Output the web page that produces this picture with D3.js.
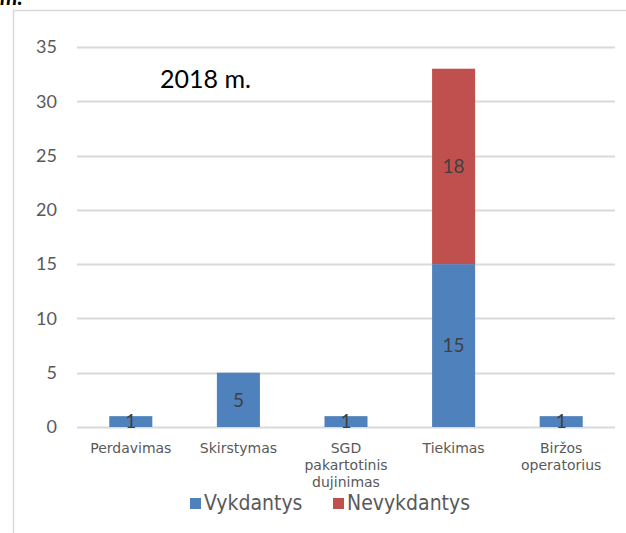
<!DOCTYPE html>
<html>
<head>
<meta charset="utf-8">
<script src="https://cdn.jsdelivr.net/npm/d3@7"></script>
<style>
  body { margin: 0; background: #fff; }
  svg { display: block; }
</style>
</head>
<body>
<svg id="chart"></svg>
<script>
const svgWidth = 626,
    svgHeight = 533,
    margin = {top: 47, right: 11, bottom: 106, left: 77},
    width = svgWidth - margin.left - margin.right,
    height = svgHeight - margin.top - margin.bottom;

// data
const categories = ["Perdavimas", "Skirstymas", "SGD pakartotinis dujinimas", "Tiekimas", "Biržos operatorius"];
const categoryLines = [["Perdavimas"], ["Skirstymas"], ["SGD", "pakartotinis", "dujinimas"], ["Tiekimas"], ["Biržos", "operatorius"]];
const vykdantys = [1, 5, 1, 15, 1];
const nevykdantys = [0, 0, 0, 18, 0];
const seriesNames = ["Vykdantys", "Nevykdantys"];
const yTicks = [0, 5, 10, 15, 20, 25, 30, 35];

const colors = ["#4f81bd", "#c0504d"];

const chart = d3.select('#chart')
    .attr("width", svgWidth)
    .attr("height", svgHeight);

// outer frame (only left and top visible)
chart.append("line")
    .attr("x1", 13.5).attr("x2", 13.5).attr("y1", 10).attr("y2", svgHeight)
    .style("stroke", "#d9d9d9").style("stroke-width", 1.5);
chart.append("line")
    .attr("x1", 13).attr("x2", svgWidth).attr("y1", 10.5).attr("y2", 10.5)
    .style("stroke", "#d9d9d9").style("stroke-width", 1.5);

// text cut off at the top, as in the source
chart.append("text")
    .attr("x", 0).attr("y", 5)
    .style("font-family", "Lato, sans-serif")
    .style("font-size", "22px")
    .style("font-weight", "bold")
    .style("font-style", "italic")
    .text("m.");

const innerChart = chart.append("g")
    .attr("transform", "translate(" + margin.left + "," + margin.top + ")");

var xScale = d3.scaleBand().domain(categories).range([0, width]).paddingInner(0.6).paddingOuter(0.3);
var yScale = d3.scaleLinear().domain([0, 35]).range([height, 0]);

// gridlines
innerChart.append("g").selectAll("line")
    .data(yTicks)
    .enter()
    .append("line")
    .attr("x1", 0).attr("x2", width)
    .attr("y1", d => Math.round(yScale(d)) + 0.5)
    .attr("y2", d => Math.round(yScale(d)) + 0.5)
    .style("stroke", "#d9d9d9")
    .style("stroke-width", 2);

// y tick labels
innerChart.append("g").selectAll("text")
    .data(yTicks)
    .enter()
    .append("text")
    .attr("x", -20)
    .attr("y", d => yScale(d))
    .attr("dy", "0.35em")
    .attr("text-anchor", "end")
    .style("font-family", "Lato, sans-serif")
    .style("font-size", "18px")
    .style("fill", "#595959")
    .text(d => d);

// stacked bars
const stackData = categories.map((c, i) => ({cat: c, Vykdantys: vykdantys[i], Nevykdantys: nevykdantys[i]}));
const stacked = d3.stack().keys(seriesNames)(stackData);

const bandW = xScale.step() * 0.4;
const barX = d => xScale(d.data.cat) + xScale.bandwidth() / 2 - bandW / 2;

stacked.forEach(function(layer, li) {
    var g = innerChart.append("g");
    g.selectAll("rect")
        .data(layer.filter(d => d[1] - d[0] > 0))
        .enter()
        .append("rect")
        .attr("x", barX)
        .attr("width", bandW)
        .attr("y", d => yScale(d[1]))
        .attr("height", d => yScale(d[0]) - yScale(d[1]))
        .style("fill", colors[li]);

    g.selectAll("text")
        .data(layer.filter(d => d[1] - d[0] > 0))
        .enter()
        .append("text")
        .attr("x", d => xScale(d.data.cat) + xScale.bandwidth() / 2)
        .attr("y", d => (yScale(d[0]) + yScale(d[1])) / 2)
        .attr("dy", "0.35em")
        .attr("text-anchor", "middle")
        .style("font-family", "Lato, sans-serif")
        .style("font-size", "19px")
        .style("fill", "#404040")
        .text(d => d[1] - d[0]);
});

// x category labels
var xl = innerChart.append("g").selectAll("text")
    .data(categories)
    .enter()
    .append("text")
    .attr("x", d => xScale(d) + xScale.bandwidth() / 2)
    .attr("y", height + 26)
    .attr("text-anchor", "middle")
    .style("font-family", "'DejaVu Sans', sans-serif")
    .style("font-size", "14px")
    .style("fill", "#595959");

xl.each(function(d, i) {
    var t = d3.select(this);
    categoryLines[i].forEach(function(line, j) {
        t.append("tspan")
            .attr("x", xScale(d) + xScale.bandwidth() / 2)
            .attr("dy", j == 0 ? 0 : 17)
            .text(line);
    });
});

// legend
const legendX = [190, 333];
const legend = chart.append("g").selectAll("g")
    .data(seriesNames)
    .enter()
    .append("g")
    .attr("transform", (d, i) => "translate(" + legendX[i] + ",498)");

legend.append("rect")
    .attr("width", 11).attr("height", 11)
    .style("fill", (d, i) => colors[i]);

legend.append("text")
    .attr("x", 14)
    .attr("y", 12)
    .style("font-family", "'DejaVu Sans Condensed', 'DejaVu Sans', sans-serif")
    .style("font-size", "21px")
    .style("fill", "#595959")
    .text(d => d);

// title inside plot
chart.append("text")
    .attr("x", 160)
    .attr("y", 88)
    .style("font-family", "Lato, sans-serif")
    .style("font-size", "25px")
    .style("fill", "#000")
    .text("2018 m.");
</script>
</body>
</html>
